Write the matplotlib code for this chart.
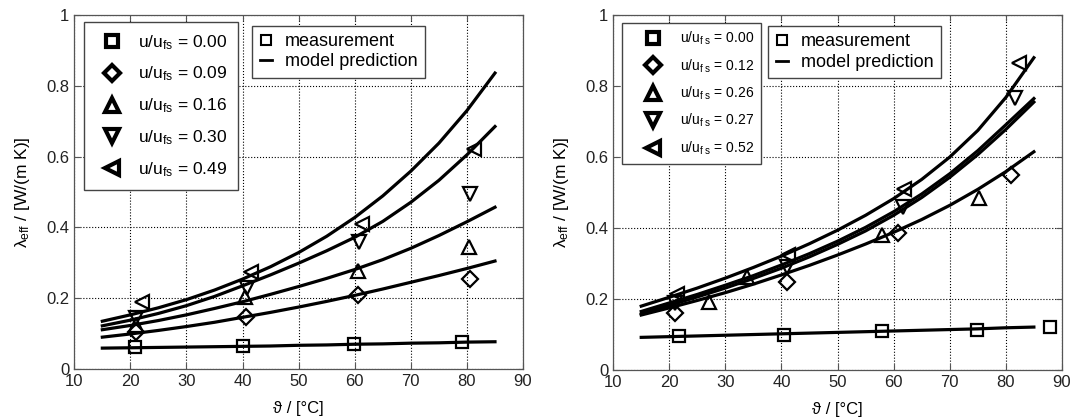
import matplotlib
matplotlib.use('Agg')
import matplotlib.pyplot as plt
from matplotlib.lines import Line2D
import numpy as np

plt.rcParams['font.family'] = ['Liberation Sans', 'DejaVu Sans']
plt.rcParams['mathtext.fontset'] = 'custom'
plt.rcParams['mathtext.rm'] = 'Liberation Sans'
plt.rcParams['mathtext.it'] = 'Liberation Sans:italic'
plt.rcParams['mathtext.bf'] = 'Liberation Sans:bold'

# ---- left panel data ----
left_ratio = ['0.00', '0.09', '0.16', '0.30', '0.49']
left_meas_x = [
    [20.9, 40.1, 59.8, 79.2],
    [21.0, 40.6, 60.6, 80.5],
    [21.0, 40.5, 60.5, 80.4],
    [21.0, 40.8, 60.7, 80.5],
    [22.0, 41.5, 61.3, 81.3],
]
left_meas_y = [
    [0.062, 0.064, 0.071, 0.075],
    [0.105, 0.147, 0.208, 0.254],
    [0.125, 0.203, 0.276, 0.346],
    [0.145, 0.228, 0.360, 0.494],
    [0.190, 0.275, 0.410, 0.622],
]
model_x = [15, 20, 25, 30, 35, 40, 45, 50, 55, 60, 65, 70, 75, 80, 85]
left_model_y = [
    [0.059, 0.060, 0.061, 0.062, 0.063, 0.064, 0.065, 0.067, 0.068, 0.070, 0.071, 0.073, 0.074, 0.076, 0.077],
    [0.090, 0.099, 0.109, 0.120, 0.132, 0.146, 0.160, 0.175, 0.191, 0.208, 0.226, 0.245, 0.264, 0.284, 0.305],
    [0.111, 0.123, 0.137, 0.153, 0.171, 0.190, 0.211, 0.233, 0.256, 0.281, 0.309, 0.341, 0.377, 0.416, 0.457],
    [0.122, 0.138, 0.157, 0.179, 0.205, 0.235, 0.266, 0.299, 0.334, 0.372, 0.417, 0.471, 0.533, 0.605, 0.685],
    [0.135, 0.153, 0.173, 0.196, 0.223, 0.254, 0.289, 0.329, 0.375, 0.428, 0.489, 0.559, 0.638, 0.730, 0.836],
]

# ---- right panel data ----
right_ratio = ['0.00', '0.12', '0.26', '0.27', '0.52']
right_meas_x = [
    [21.7, 40.4, 57.9, 74.9, 87.8],
    [21.0, 40.9, 60.8, 81.0],
    [27.0, 33.8, 57.9, 75.2],
    [21.0, 40.9, 61.6, 81.6],
    [21.4, 41.2, 61.9, 82.3],
]
right_meas_y = [
    [0.096, 0.100, 0.110, 0.113, 0.120],
    [0.160, 0.249, 0.385, 0.550],
    [0.193, 0.263, 0.381, 0.484],
    [0.190, 0.290, 0.460, 0.766],
    [0.215, 0.325, 0.510, 0.865],
]
right_model_y = [
    [0.092, 0.094, 0.096, 0.098, 0.100, 0.102, 0.104, 0.106, 0.108, 0.110, 0.112, 0.114, 0.116, 0.119, 0.121],
    [0.155, 0.175, 0.196, 0.218, 0.242, 0.268, 0.295, 0.324, 0.355, 0.388, 0.424, 0.464, 0.509, 0.559, 0.615],
    [0.158, 0.182, 0.206, 0.231, 0.258, 0.287, 0.319, 0.354, 0.392, 0.436, 0.486, 0.543, 0.607, 0.678, 0.755],
    [0.165, 0.189, 0.213, 0.239, 0.266, 0.296, 0.328, 0.363, 0.402, 0.446, 0.496, 0.553, 0.618, 0.691, 0.765],
    [0.180, 0.205, 0.231, 0.259, 0.289, 0.321, 0.356, 0.394, 0.436, 0.483, 0.537, 0.600, 0.675, 0.768, 0.880],
]

markers = ['s', 'D', '^', 'v', '<']
msizes = [9, 8, 10, 10, 10]


def draw_panel(ax, mx, my, model, ratios, leg_font, leg1_anchor, leg1_spacing,
               leg1_handle, leg1_textpad, leg1_pad, leg2_anchor, spaced_sub):
    for y in model:
        ax.plot(model_x, y, 'k-', lw=2.3, zorder=3)
    for i in range(len(mx)):
        ax.plot(mx[i], my[i], linestyle='none', marker=markers[i],
                markersize=msizes[i], markerfacecolor='none',
                markeredgecolor='k', markeredgewidth=1.6, zorder=4)
    ax.set_xlim(10, 90)
    ax.set_ylim(0, 1)
    ax.set_xticks(np.arange(10, 91, 10))
    ax.set_yticks([0, 0.2, 0.4, 0.6, 0.8, 1])
    ax.set_yticklabels(['0', '0.2', '0.4', '0.6', '0.8', '1'])
    ax.grid(True, linestyle=':', color='k', lw=0.8)
    ax.tick_params(direction='in', length=4, top=True, right=True,
                   labelsize=12, color='#555555', labelcolor='#222222')
    for s in ax.spines.values():
        s.set_color('#555555')
        s.set_linewidth(0.9)
    ax.set_xlabel('ϑ / [°C]', fontsize=12, labelpad=9)
    ax.set_ylabel(r'λ$_{\mathrm{eff}}$ / [W/(m K)]', fontsize=12.5, labelpad=10)

    sub = r'$_{\mathrm{f\ s}}$' if spaced_sub else r'$_{\mathrm{fs}}$'
    handles = [Line2D([], [], linestyle='none', marker=markers[i],
                      markersize=msizes[i], markerfacecolor='none',
                      markeredgecolor='k', markeredgewidth=3)
               for i in range(5)]
    labels = ['u/u' + sub + ' = ' + r for r in ratios]
    leg1 = ax.legend(handles, labels, loc='upper left', bbox_to_anchor=leg1_anchor,
                     fontsize=leg_font, frameon=True, fancybox=False,
                     edgecolor='#444444', framealpha=1, handlelength=leg1_handle,
                     handletextpad=leg1_textpad, labelspacing=leg1_spacing,
                     borderpad=leg1_pad, borderaxespad=0)
    leg1.get_frame().set_linewidth(1.0)
    ax.add_artist(leg1)

    h2 = [Line2D([], [], linestyle='none', marker='s', markersize=7,
                 markerfacecolor='none', markeredgecolor='k', markeredgewidth=1.5),
          Line2D([], [], color='k', lw=2)]
    leg2 = ax.legend(h2, ['measurement', 'model prediction'], loc='upper left',
                     bbox_to_anchor=leg2_anchor, fontsize=13, frameon=True,
                     fancybox=False, edgecolor='#444444', framealpha=1,
                     handlelength=0.7, handletextpad=0.7, labelspacing=0.2,
                     borderpad=0.4, borderaxespad=0)
    leg2.get_frame().set_linewidth(1.0)


fig = plt.figure(figsize=(10.72, 4.18), dpi=100)
ax1 = fig.add_axes([0.0693, 0.1172, 0.4186, 0.8469])
ax2 = fig.add_axes([0.572, 0.1148, 0.4186, 0.849])

draw_panel(ax1, left_meas_x, left_meas_y, left_model_y, left_ratio, 12.5,
           (0.0207, 0.979), 0.76, 2.1, 0.45, 0.6, (0.397, 0.970), False)
draw_panel(ax2, right_meas_x, right_meas_y, right_model_y, right_ratio, 10,
           (0.019, 0.978), 0.72, 3.5, 0.2, 0.5, (0.346, 0.969), True)

fig.savefig('out.png', dpi=100)
